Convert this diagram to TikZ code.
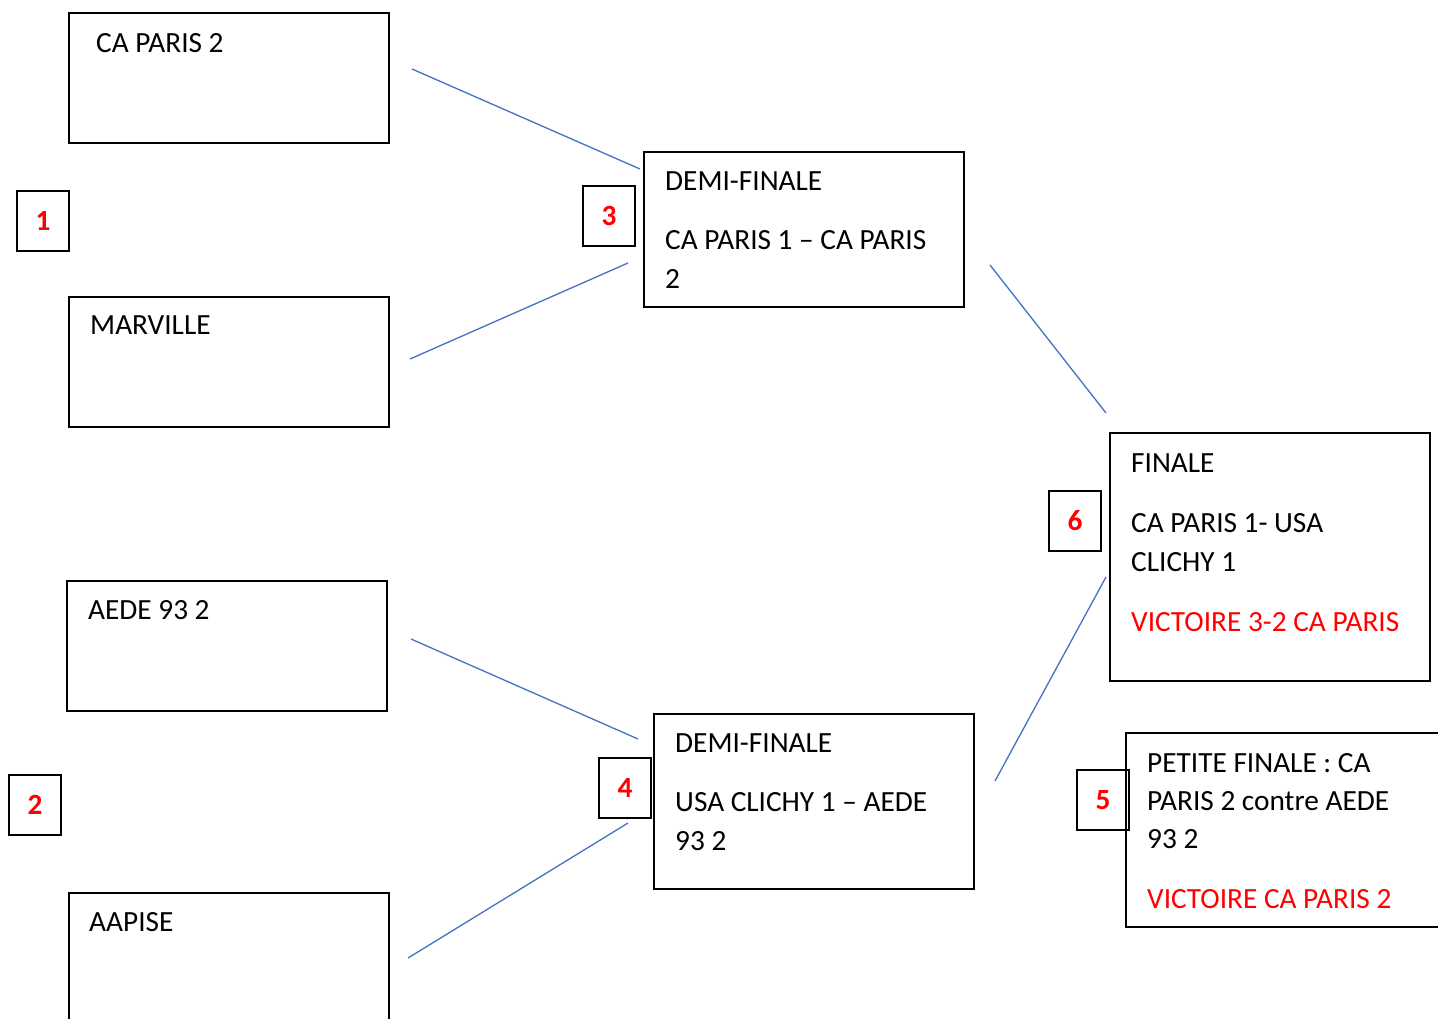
\documentclass[tikz,border=0pt]{standalone}
\usepackage{fontspec}
\setmainfont{Carlito}
\definecolor{lineblue}{HTML}{4472C4}
\definecolor{pured}{RGB}{255,0,0}
\begin{document}
\begin{tikzpicture}[x=1pt,y=-1pt,
  box/.style={draw=black, line width=2pt, rectangle, inner sep=0pt, outer sep=0pt, anchor=north west},
  numbox/.style={box, minimum width=52pt, minimum height=60pt},
  txt/.style={anchor=base west, inner sep=0pt, font=\fontsize{29.3}{39}\selectfont},
  redtxt/.style={txt, text=pured},
  num/.style={inner sep=0pt, text=pured, font=\fontsize{29.3}{39}\selectfont\bfseries},
  link/.style={draw=lineblue, line width=1.3pt}]
\clip (0,0) rectangle (1438,1018);
\fill[white] (0,0) rectangle (1438,1018);

% team boxes
\node[box, minimum width=320pt, minimum height=130pt] (t1) at (69,13) {};
\node[box, minimum width=320pt, minimum height=130pt] (t2) at (69,297) {};
\node[box, minimum width=320pt, minimum height=130pt] (t3) at (67,581) {};
\node[box, minimum width=320pt, minimum height=140pt] (t4) at (69,893) {};
\node[txt] (t1a) at (96,52) {CA PARIS 2};
\node[txt] (t2a) at (90,334) {MARVILLE};
\node[txt] (t3a) at (88,619) {AEDE 93 2};
\node[txt] (t4a) at (89,931) {AAPISE};

% demi-finales
\node[box, minimum width=320pt, minimum height=155pt] (d1) at (644,152) {};
\node[txt] (d1a) at (665,190) {DEMI-FINALE};
\node[txt] (d1b) at (665,249) {CA PARIS 1 – CA PARIS};
\node[txt] (d1c) at (665,288) {2};

\node[box, minimum width=320pt, minimum height=175pt] (d2) at (654,714) {};
\node[txt] (d2a) at (675,752) {DEMI-FINALE};
\node[txt] (d2b) at (675,811) {USA CLICHY 1 – AEDE};
\node[txt] (d2c) at (675,850) {93 2};

% finale
\node[box, minimum width=320pt, minimum height=248pt] (f) at (1110,433) {};
\node[txt] (fa) at (1131,472) {FINALE};
\node[txt] (fb) at (1131,532) {CA PARIS 1- USA};
\node[txt] (fc) at (1131,571) {CLICHY 1};
\node[redtxt] (fd) at (1131,631) {VICTOIRE 3-2 CA PARIS};

% petite finale
\node[box, minimum width=340pt, minimum height=194pt] (p) at (1126,733) {};
\node[txt] (pa) at (1147,772) {PETITE FINALE : CA};
\node[txt] (pb) at (1147,810) {PARIS 2 contre AEDE};
\node[txt] (pc) at (1147,848) {93 2};
\node[redtxt] (pd) at (1147,908) {VICTOIRE CA PARIS 2};

% number boxes
\node[numbox] (n1) at (17,191) {};
\node[numbox] (n2) at (9,775) {};
\node[numbox] (n3) at (583,186) {};
\node[numbox] (n4) at (599,758) {};
\node[numbox] (n6) at (1049,491) {};
\node[numbox] (n5) at (1077,770) {};
\node[num] (l1) at (n1.center) {1};
\node[num] (l2) at (n2.center) {2};
\node[num] (l3) at (n3.center) {3};
\node[num] (l4) at (n4.center) {4};
\node[num] (l6) at (n6.center) {6};
\node[num] (l5) at (n5.center) {5};

% connector ends
\coordinate (a1) at (412,69);   \coordinate (b1) at (640,169);
\coordinate (a2) at (410,359);  \coordinate (b2) at (628,263);
\coordinate (a3) at (990,265);  \coordinate (b3) at (1106,413);
\coordinate (a4) at (411,639);  \coordinate (b4) at (638,739);
\coordinate (a5) at (408,958);  \coordinate (b5) at (628,823);
\coordinate (a6) at (995,781);  \coordinate (b6) at (1106,577);
\draw[link] (a1) -- (b1);
\draw[link] (a2) -- (b2);
\draw[link] (a3) -- (b3);
\draw[link] (a4) -- (b4);
\draw[link] (a5) -- (b5);
\draw[link] (a6) -- (b6);
\end{tikzpicture}
\end{document}
